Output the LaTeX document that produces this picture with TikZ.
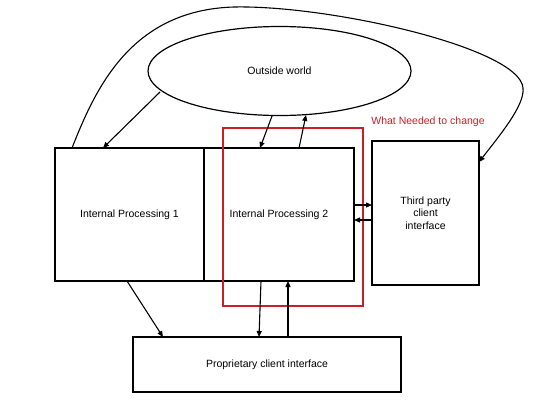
\documentclass[tikz,border=0pt]{standalone}
\usepackage{fontspec}
\setmainfont{Liberation Sans}
\usetikzlibrary{shapes.geometric,arrows.meta,calc}
\definecolor{chgred}{RGB}{204,30,40}
\tikzset{
  box/.style={draw=black, line width=1.2pt, rectangle, inner sep=0pt, outer sep=0pt, font=\fontsize{10.5}{12.5}\selectfont, align=center},
  oval/.style={draw=black, line width=1.2pt, ellipse, inner sep=0pt, outer sep=0pt, font=\fontsize{10.5}{12.5}\selectfont},
  redbox/.style={draw=chgred, line width=1.2pt, rectangle, inner sep=0pt, outer sep=0pt},
  arr/.style={draw=black, line width=1.1pt, -{Triangle[length=6pt,width=5pt]}},
  redlabel/.style={text=chgred, font=\fontsize{10.5}{12.5}\selectfont, inner sep=0pt}
}
\begin{document}
\begin{tikzpicture}[x=1pt,y=-1pt]
\useasboundingbox (0,0) rectangle (540,405);
\fill[white] (0,0) rectangle (540,405);
\node[box, minimum width=149pt, minimum height=133pt] (ip1) at (129.5,214.5) {Internal Processing 1};
\node[box, minimum width=150pt, minimum height=133pt] (ip2) at (279,214.5) {Internal Processing 2};
\node[box, minimum width=107pt, minimum height=144pt] (tp) at (425.5,213) {Third party\\client\\interface};
\node[box, minimum width=268pt, minimum height=55pt] (pci) at (267,364.5) {Proprietary client interface};
\node[oval, minimum width=263pt, minimum height=89pt] (ow) at (279.5,71) {Outside world};
\node[redbox, minimum width=140pt, minimum height=178pt] (chg) at (293,217) {};
\node[redlabel] (chglabel) at (428,122) {What Needed to change};
% arrows
\draw[arr] ($(ow.center)+(-119.5,21)$) -- ([xshift=48pt]ip1.north west);
\draw[arr] ($(ow.south)+(-7.5,0.5)$) -- ([xshift=56pt]ip2.north west);
\draw[arr] ([xshift=95pt]ip2.north west) -- ($(ow.south)+(26.5,-0.5)$);
\draw[arr] ([xshift=17pt]ip1.north west) .. controls (95,90) and (130,10) .. (234,7)
  .. controls (330,5) and (520,48) .. (523,88)
  .. controls (525,105) and (500,135) .. ([yshift=-21pt]tp.north east);
\draw[arr] ($(ip2.east)+(0,-9.5)$) -- ($(tp.west)+(0,-8)$);
\draw[arr] ($(tp.west)+(0,7)$) -- ($(ip2.east)+(0,5.5)$);
\draw[arr] ([xshift=57pt]ip2.south west) -- ([xshift=126pt]pci.north west);
\draw[arr] ([xshift=155pt]pci.north west) -- ([xshift=84pt]ip2.south west);
\draw[arr] ([xshift=72pt]ip1.south west) -- ([xshift=30pt]pci.north west);
\end{tikzpicture}
\end{document}
